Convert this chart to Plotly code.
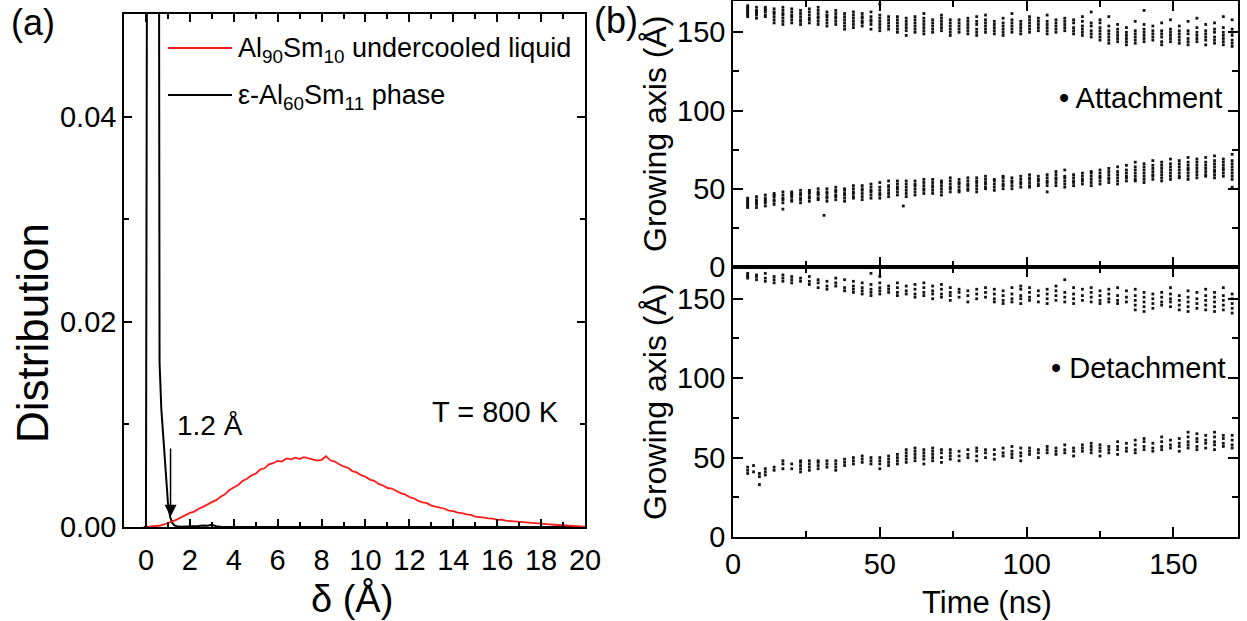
import plotly.graph_objects as go

W, H = 1247, 621
def px(x): return x / W
def py(y): return 1 - y / H

FONT = "Liberation Sans, Arial, sans-serif"

# ---------------- Panel (a) data ----------------
delta_red = [round(i * 0.2, 1) for i in range(101)]
red_liquid = [
    0.00000, 0.00003, 0.00006, 0.00012, 0.00022, 0.00036, 0.00055, 0.00072, 0.00095, 0.00110,
    0.00138, 0.00150, 0.00178, 0.00196, 0.00215, 0.00242, 0.00262, 0.00295, 0.00318, 0.00360,
    0.00385, 0.00410, 0.00448, 0.00470, 0.00502, 0.00520, 0.00560, 0.00572, 0.00610, 0.00622,
    0.00645, 0.00638, 0.00668, 0.00660, 0.00675, 0.00665, 0.00680, 0.00668, 0.00660, 0.00648,
    0.00655, 0.00690, 0.00650, 0.00638, 0.00612, 0.00590, 0.00578, 0.00545, 0.00532, 0.00505,
    0.00490, 0.00462, 0.00450, 0.00420, 0.00405, 0.00380, 0.00375, 0.00352, 0.00330, 0.00318,
    0.00292, 0.00280, 0.00255, 0.00240, 0.00232, 0.00208, 0.00200, 0.00185, 0.00178, 0.00160,
    0.00155, 0.00140, 0.00135, 0.00122, 0.00118, 0.00102, 0.00100, 0.00092, 0.00085, 0.00082,
    0.00070, 0.00072, 0.00062, 0.00058, 0.00050, 0.00046, 0.00042, 0.00040, 0.00035, 0.00036,
    0.00030, 0.00028, 0.00025, 0.00022, 0.00020, 0.00018, 0.00016, 0.00012, 0.00010, 0.00006,
    0.00004,
]

delta_black = [-0.1, 0.0, 0.1, 0.2, 0.3, 0.45, 0.58, 0.62, 0.7, 0.8, 0.9, 1.0, 1.1, 1.2, 1.3,
               1.4, 1.6, 1.8, 2.0, 2.2, 2.4, 2.6, 2.8, 3.0, 3.2, 3.4, 3.6, 4.0, 6.0, 10.0, 15.0, 20.0]
black_crystal = [0.0, 0.0, 0.12, 0.25, 0.3, 0.2, 0.08, 0.016, 0.0115, 0.0082, 0.0048, 0.0024, 0.0010,
                 0.0004, 0.00015, 0.00008, 0.00003, 0.00005, 0.0, 0.00006, 0.0001, 0.00015, 0.00012,
                 0.00022, 0.00008, 0.00003, 0.0, 0.0, 0.0, 0.0, 0.0, 0.0]

# ---------------- Panel (b) data: (time, [growing-axis positions]) ----------------
att_upper = [
    (5, [160, 161, 162, 163, 164, 165, 166, 167]), (8, [159, 161, 162, 163, 164, 166]),
    (11, [160, 161, 163, 164, 165, 166]), (14, [156, 158, 160, 162, 163, 165]),
    (17, [155, 157, 159, 161, 162, 164, 166]), (20, [156, 158, 160, 161, 163, 165]),
    (23, [155, 157, 158, 160, 162, 164]), (26, [156, 158, 159, 161, 163, 165]),
    (29, [155, 157, 159, 160, 162, 164, 166]), (32, [154, 156, 158, 160, 161, 163]),
    (35, [155, 157, 159, 160, 162, 164]), (38, [152, 154, 156, 158, 160, 162]),
    (41, [153, 155, 157, 159, 161, 163]), (44, [154, 156, 157, 159, 160, 162]),
    (47, [152, 155, 157, 158, 160, 163]), (50, [151, 153, 155, 157, 159, 161, 168]),
    (53, [152, 154, 156, 158, 160]), (56, [150, 152, 154, 156, 158, 160]),
    (59, [148, 151, 153, 155, 157, 159]), (62, [150, 152, 154, 156, 158, 160]),
    (65, [149, 151, 153, 155, 157, 159, 162]), (68, [150, 152, 154, 156, 158]),
    (71, [151, 153, 155, 157, 159, 161]), (74, [148, 150, 152, 154, 156, 158]),
    (77, [150, 152, 154, 156, 158]), (80, [149, 151, 153, 155, 157, 159]),
    (83, [148, 150, 152, 155, 157, 160]), (86, [150, 152, 154, 156, 158, 161]),
    (89, [149, 151, 153, 155, 157]), (92, [148, 150, 152, 154, 156, 159]),
    (95, [150, 152, 154, 156, 158, 162]), (98, [149, 151, 153, 155, 157]),
    (101, [150, 152, 154, 156, 158, 160]), (104, [151, 153, 155, 157, 159]),
    (107, [149, 151, 153, 155, 157, 161]), (110, [150, 152, 154, 156, 158]),
    (113, [151, 153, 155, 157, 159]), (116, [149, 151, 153, 156, 158]),
    (119, [148, 150, 152, 154, 157, 160]), (122, [147, 149, 151, 154, 156, 163]),
    (125, [145, 147, 149, 151, 153, 156, 158]), (128, [143, 145, 147, 149, 151, 154, 160]),
    (131, [144, 146, 148, 150, 152, 155]), (134, [142, 144, 146, 148, 150, 153]),
    (137, [143, 145, 147, 149, 151, 157]), (140, [144, 146, 148, 150, 152, 155, 164]),
    (143, [145, 147, 149, 151, 154]), (146, [142, 144, 147, 149, 151, 156]),
    (149, [144, 146, 148, 150, 152, 158]), (152, [143, 145, 147, 149, 151, 154]),
    (155, [142, 144, 146, 149, 151, 157]), (158, [144, 146, 148, 150, 153, 159]),
    (161, [142, 145, 147, 149, 151, 155]), (164, [143, 145, 147, 150, 152, 156]),
    (167, [142, 144, 146, 148, 150, 153, 160]), (170, [141, 143, 145, 148, 150, 152, 158]),
]

att_lower = [
    (5, [38, 39, 40, 41, 42, 43, 44]), (8, [38, 40, 41, 42, 43, 45]), (11, [39, 41, 42, 43, 44, 46]),
    (14, [40, 42, 43, 45, 46, 47]), (17, [37, 41, 43, 44, 46, 48]), (20, [42, 43, 45, 46, 47, 48]),
    (23, [41, 43, 44, 46, 47, 49]), (26, [42, 44, 45, 47, 48, 49]), (29, [43, 44, 46, 47, 48, 50]),
    (31, [33]), (32, [42, 44, 45, 47, 48, 50]), (35, [43, 45, 46, 48, 49, 51]),
    (38, [42, 44, 46, 47, 49, 50]), (41, [44, 45, 47, 48, 50, 52]), (44, [43, 45, 47, 49, 50, 52]),
    (47, [44, 46, 48, 49, 51, 53]), (50, [44, 46, 47, 49, 51, 54]), (53, [45, 47, 49, 51, 52, 55]),
    (56, [46, 48, 50, 51, 53, 55]), (58, [39]), (59, [45, 47, 49, 51, 53, 55]),
    (62, [46, 48, 50, 52, 53, 55]), (65, [47, 49, 50, 52, 54, 56]), (68, [47, 49, 51, 52, 54, 56]),
    (71, [46, 48, 50, 52, 54, 55]), (74, [48, 50, 51, 53, 55, 57]), (77, [48, 49, 51, 53, 54, 56]),
    (80, [49, 50, 52, 53, 55, 57]), (83, [48, 50, 52, 54, 55, 57]), (86, [50, 51, 53, 54, 56, 58]),
    (89, [49, 51, 53, 55, 56]), (92, [50, 52, 53, 55, 57, 58]), (95, [50, 52, 54, 55, 57]),
    (98, [51, 53, 54, 56, 58]), (101, [51, 52, 54, 56, 57, 59]), (104, [52, 53, 55, 56, 58]),
    (107, [48, 52, 54, 55, 57, 59]), (110, [52, 54, 56, 57, 59, 61]), (113, [51, 53, 55, 57, 58, 62]),
    (116, [52, 54, 55, 57, 59]), (119, [53, 55, 56, 58, 60]), (122, [52, 54, 56, 58, 60, 61]),
    (125, [53, 55, 57, 58, 60, 62]), (128, [54, 56, 57, 59, 61, 63]), (131, [53, 55, 57, 59, 61, 64]),
    (134, [55, 57, 58, 60, 62, 65]), (137, [55, 56, 58, 60, 62, 64, 67]),
    (140, [54, 56, 58, 60, 62, 64, 66]), (143, [56, 58, 59, 61, 63, 65, 68]),
    (146, [55, 57, 59, 61, 63, 65, 67]), (149, [56, 58, 60, 62, 64, 66, 69]),
    (152, [57, 58, 60, 62, 64, 66, 68]), (155, [56, 58, 60, 62, 63, 65, 67, 70]),
    (158, [57, 59, 61, 63, 65, 67, 69]), (161, [58, 59, 61, 63, 65, 67, 70]),
    (164, [57, 59, 61, 62, 64, 66, 68, 71]), (167, [58, 60, 62, 63, 65, 67, 69]),
    (170, [51, 56, 58, 60, 62, 64, 66, 68, 72]),
]

det_upper = [
    (5, [163, 164, 165, 166]), (8, [162, 164, 165]), (11, [161, 163, 166]), (14, [160, 162, 164]),
    (17, [161, 163, 165]), (20, [160, 162, 164]), (23, [161, 163]), (26, [159, 161, 164]),
    (29, [157, 160, 162]), (32, [156, 158, 161]), (35, [158, 160, 163]), (38, [155, 157, 162]),
    (41, [154, 156, 158, 161]), (44, [153, 155, 157, 160]), (47, [152, 154, 156, 159, 166]),
    (50, [153, 155, 157, 160, 164]), (53, [154, 156, 158]), (56, [152, 154, 157, 160]),
    (59, [153, 155, 158]), (62, [151, 153, 156, 159]), (65, [152, 154, 157, 160]),
    (68, [150, 153, 155, 158]), (71, [151, 153, 156, 159]), (74, [149, 152, 154, 157]),
    (77, [151, 154, 156]), (80, [148, 152, 155]), (83, [150, 153, 156]), (86, [151, 154, 157]),
    (89, [148, 150, 153, 156]), (92, [147, 149, 152, 155]), (95, [148, 150, 153, 157]),
    (98, [147, 150, 152, 156, 158]), (101, [149, 151, 154, 157]), (104, [148, 152, 155]),
    (107, [147, 150, 153, 156]), (110, [149, 152, 155, 158]), (113, [148, 151, 154, 162]),
    (116, [147, 150, 153, 157]), (119, [149, 152, 156]), (122, [148, 151, 154, 157]),
    (125, [147, 149, 152, 155]), (128, [148, 150, 153, 156]), (131, [147, 149, 152, 157]),
    (134, [148, 151, 155]), (137, [143, 146, 149, 152, 156]), (140, [142, 145, 148, 151, 154]),
    (143, [144, 147, 150, 153]), (146, [146, 148, 151, 154]), (149, [145, 148, 150, 153, 157]),
    (152, [143, 146, 149, 152]), (155, [142, 145, 148, 151, 155]), (158, [144, 147, 150, 154]),
    (161, [143, 146, 149, 152, 156]), (164, [142, 145, 148, 151, 154]),
    (167, [143, 146, 149, 152, 157]), (170, [141, 144, 147, 150, 153]),
]

det_lower = [
    (5, [40, 42, 44]), (7, [41, 45]), (9, [33, 38, 40]), (11, [39, 41, 43]), (14, [42, 44]),
    (17, [43, 46, 48]), (20, [43, 46]), (23, [41, 43, 45, 47, 48]), (26, [42, 44, 46, 48]),
    (29, [43, 45, 47, 48]), (32, [44, 46, 48]), (35, [42, 44, 46, 48]), (38, [45, 47, 49]),
    (41, [46, 48, 50]), (44, [47, 49, 51]), (47, [46, 48, 50]), (50, [43, 46, 48, 50]),
    (53, [45, 47, 49, 51]), (56, [46, 48, 50, 52]), (59, [47, 49, 51, 53, 55]),
    (62, [48, 50, 52, 54, 56]), (65, [46, 49, 51, 53, 55]), (68, [48, 50, 52, 54, 56]),
    (71, [47, 50, 53, 55]), (74, [49, 51, 53, 55]), (77, [48, 51, 54]), (80, [50, 52, 55]),
    (83, [48, 51, 54, 56]), (86, [50, 53, 55]), (89, [49, 52, 55]), (92, [51, 53, 56]),
    (95, [50, 52, 54, 57]), (98, [48, 51, 53, 56]), (101, [52, 54, 56]), (104, [50, 53, 55]),
    (107, [53, 55, 57]), (110, [52, 54, 56]), (113, [53, 55, 58]), (116, [51, 54, 56]),
    (119, [54, 56, 58]), (122, [53, 55, 57, 59]), (125, [51, 54, 56, 58]), (128, [53, 55, 57]),
    (131, [52, 55, 57, 60]), (134, [54, 56, 59]), (137, [53, 55, 58, 61]), (140, [55, 57, 60, 62]),
    (143, [54, 56, 59]), (146, [55, 57, 60, 63]), (149, [56, 58, 61]), (152, [54, 57, 59, 62]),
    (155, [56, 58, 60, 63, 66]), (158, [55, 57, 60, 62, 65]), (161, [56, 59, 61, 64]),
    (164, [55, 58, 60, 63, 66]), (167, [57, 59, 62, 64]), (170, [56, 58, 61, 64]),
]


def expand(cols):
    xs, ys = [], []
    for t, vals in cols:
        for v in vals:
            xs.append(t)
            ys.append(v)
    return xs, ys


fig = go.Figure()

fig.add_trace(go.Scatter(x=delta_black, y=black_crystal, mode="lines",
                         line=dict(color="black", width=2), xaxis="x", yaxis="y", showlegend=False))
fig.add_trace(go.Scatter(x=delta_red, y=red_liquid, mode="lines",
                         line=dict(color="#ff1a1a", width=1.8), xaxis="x", yaxis="y", showlegend=False))

dot = dict(color="#111111", size=2.8, symbol="square", line=dict(width=0))
for cols, xa, ya in [(att_upper, "x2", "y2"), (att_lower, "x2", "y2"),
                     (det_upper, "x3", "y3"), (det_lower, "x3", "y3")]:
    xs, ys = expand(cols)
    fig.add_trace(go.Scatter(x=xs, y=ys, mode="markers", marker=dot,
                             xaxis=xa, yaxis=ya, showlegend=False))

axis_common = dict(showline=True, linecolor="black", linewidth=1.5, mirror="allticks",
                   ticks="inside", tickcolor="black", tickwidth=1.5, showgrid=False,
                   zeroline=False, automargin=False,
                   tickfont=dict(family=FONT, size=29, color="black"))

fig.update_layout(
    template="none",
    width=W, height=H, margin=dict(l=0, r=0, t=0, b=0, pad=0), autosize=False,
    paper_bgcolor="white", plot_bgcolor="white", showlegend=False,
    xaxis=dict(axis_common, domain=[px(124), px(585)], range=[-1, 20], dtick=2, tick0=0,
               ticklen=8, anchor="y", ticklabelstandoff=6,
               minor=dict(dtick=1, tick0=0, ticks="inside", ticklen=5, tickcolor="black", tickwidth=1.5)),
    yaxis=dict(axis_common, domain=[py(527), py(14)], range=[0, 0.05], dtick=0.02, tick0=0,
               tickformat=".2f", ticklen=8, anchor="x",
               minor=dict(dtick=0.01, tick0=0, ticks="inside", ticklen=5, tickcolor="black", tickwidth=1.5)),
    xaxis2=dict(axis_common, domain=[px(733), px(1238)], range=[0, 172], dtick=50, tick0=0,
                ticklen=10, anchor="y2", showticklabels=False,
                minor=dict(dtick=25, tick0=0, ticks="inside", ticklen=6, tickcolor="black", tickwidth=1.5)),
    yaxis2=dict(axis_common, domain=[py(267), py(1)], range=[0, 170], dtick=50, tick0=0,
                ticklen=10, anchor="x2",
                minor=dict(dtick=25, tick0=0, ticks="inside", ticklen=6, tickcolor="black", tickwidth=1.5)),
    xaxis3=dict(axis_common, domain=[px(733), px(1238)], range=[0, 172], dtick=50, tick0=0,
                ticklen=10, anchor="y3",
                minor=dict(dtick=25, tick0=0, ticks="inside", ticklen=6, tickcolor="black", tickwidth=1.5)),
    yaxis3=dict(axis_common, domain=[py(537), py(267)], range=[0, 170], dtick=50, tick0=0,
                ticklen=10, anchor="x3",
                minor=dict(dtick=25, tick0=0, ticks="inside", ticklen=6, tickcolor="black", tickwidth=1.5)),
)

# legend (drawn manually)
fig.add_shape(type="line", xref="paper", yref="paper", x0=px(168), x1=px(232), y0=py(48), y1=py(48),
              line=dict(color="#ff1a1a", width=2))
fig.add_shape(type="line", xref="paper", yref="paper", x0=px(168), x1=px(232), y0=py(95), y1=py(95),
              line=dict(color="black", width=2))

def txt(text, x, y, size, xanchor="center", angle=0, yanchor="middle"):
    fig.add_annotation(text=text, x=px(x), y=py(y), xref="paper", yref="paper",
                       showarrow=False, xanchor=xanchor, yanchor=yanchor, textangle=angle,
                       font=dict(family=FONT, size=size, color="black"))

txt("Al<sub>90</sub>Sm<sub>10</sub> undercooled liquid", 236, 50, 27, xanchor="left")
txt("ε-Al<sub>60</sub>Sm<sub>11</sub> phase", 236, 97, 27, xanchor="left")
txt("T = 800 K", 495, 412, 29)
txt("1.2 Å", 210, 425, 28)
txt("(a)", 33, 22, 36)
txt("(b)", 616, 20, 36)
txt("Distribution", 32, 333, 44, angle=-90)
txt("δ (Å)", 352, 598, 38)
txt("Growing axis (Å)", 655, 134, 32, angle=-90)
txt("Growing axis (Å)", 655, 402, 32, angle=-90)
txt("Time (ns)", 987, 602, 31)
txt("• Attachment", 1224, 98, 29, xanchor="right")
txt("• Detachment", 1228, 368, 29, xanchor="right")

# arrow pointing at 1.2 Å
fig.add_annotation(x=1.12, y=0.0010, ax=1.12, ay=0.0078, xref="x", yref="y", axref="x", ayref="y",
                   text="", showarrow=True, arrowhead=2, arrowsize=1.6, arrowwidth=1.5,
                   arrowcolor="black")

fig.write_html("out.html")
